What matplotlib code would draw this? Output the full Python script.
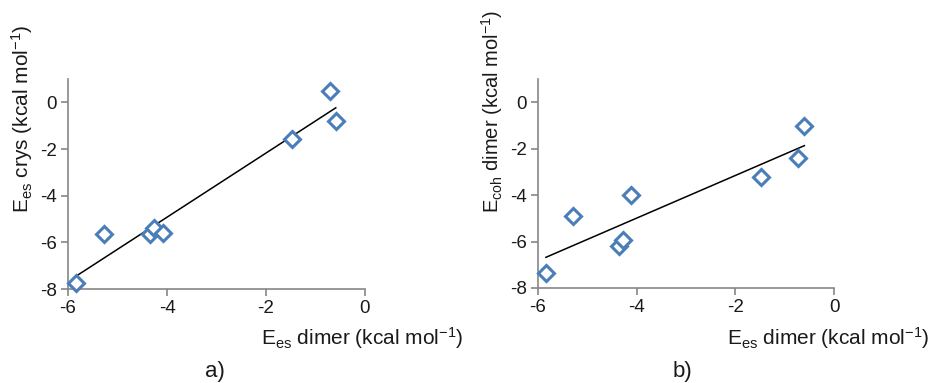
import numpy as np
import matplotlib
matplotlib.use("Agg")
import matplotlib.pyplot as plt

plt.rcParams['font.family'] = ['Liberation Sans', 'DejaVu Sans']
plt.rcParams['mathtext.fontset'] = 'custom'
plt.rcParams['mathtext.rm'] = 'Liberation Sans'
plt.rcParams['mathtext.it'] = 'Liberation Sans:italic'

# data
es_dimer = [-5.83, -5.28, -4.34, -4.26, -4.09, -1.47, -0.71, -0.59]
es_crys = [-7.74, -5.65, -5.65, -5.40, -5.58, -1.56, 0.47, -0.81]
es_dimer_b = [-5.84, -5.30, -4.36, -4.27, -4.11, -1.48, -0.72, -0.60]
coh_dimer = [-7.35, -4.90, -6.17, -5.94, -4.01, -3.24, -2.39, -1.04]

xticks = [-6, -4, -2, 0]
yticks = [-8, -6, -4, -2, 0]

W, H = 931, 383
fig = plt.figure(figsize=(W / 100, H / 100), dpi=100)

blue = '#4a7ebb'
axcol = '#868686'
txt = '#1a1a1a'
xlab = r'$\mathregular{E_{es}}$ dimer (kcal mol$^{\mathregular{-1}}$)'


def panel(rect, x, y, ylabel, ylab_x, ylab_fs, xlab_right, tag, tagx):
    ax = fig.add_axes(rect)
    ax.plot(x, y, linestyle='none', marker='D', markersize=8,
            markerfacecolor='white', markeredgecolor=blue, markeredgewidth=2.2,
            zorder=3, clip_on=False)
    p = np.polyfit(x, y, 1)
    xs = np.array([min(x), max(x)])
    ax.plot(xs, np.polyval(p, xs), color='black', lw=1.1, zorder=2)
    ax.set_xlim(-6, 0)
    ax.set_ylim(-8, 1)
    ax.set_xticks(xticks)
    ax.set_yticks(yticks)
    ax.set_xticklabels([str(v) for v in xticks])
    ax.set_yticklabels([str(v) for v in yticks])
    for s in ['top', 'right']:
        ax.spines[s].set_visible(False)
    for s in ['left', 'bottom']:
        ax.spines[s].set_color(axcol)
        ax.spines[s].set_linewidth(1.2)
    ax.tick_params(axis='both', colors=axcol, labelcolor=txt,
                   labelsize=13.5, length=5, width=1.2, direction='out')
    ax.tick_params(axis='x', pad=3)
    ax.tick_params(axis='y', pad=3)
    fig.text(ylab_x / W, 1 - 213 / H, ylabel, rotation=90, fontsize=ylab_fs,
             ha='center', va='bottom', color=txt)
    fig.text(xlab_right / W, 1 - 338 / H, xlab, fontsize=15,
             ha='right', va='center', color=txt)
    fig.text(tagx / W, 1 - 371 / H, tag, fontsize=16, ha='center', va='center',
             color=txt)
    return ax


panel([68 / W, 1 - 289 / H, 297 / W, 210 / H], es_dimer, es_crys,
      r'$\mathregular{E_{es}}$ crys (kcal mol$^{\mathregular{-1}}$)', 22, 15, 463,
      'a)', 215)
panel([538 / W, 1 - 288 / H, 296 / W, 209 / H], es_dimer_b, coh_dimer,
      r'$\mathregular{E_{coh}}$ dimer (kcal mol$^{\mathregular{-1}}$)', 492, 14.5, 929,
      'b)', 682)

fig.savefig('out.png', dpi=100)
